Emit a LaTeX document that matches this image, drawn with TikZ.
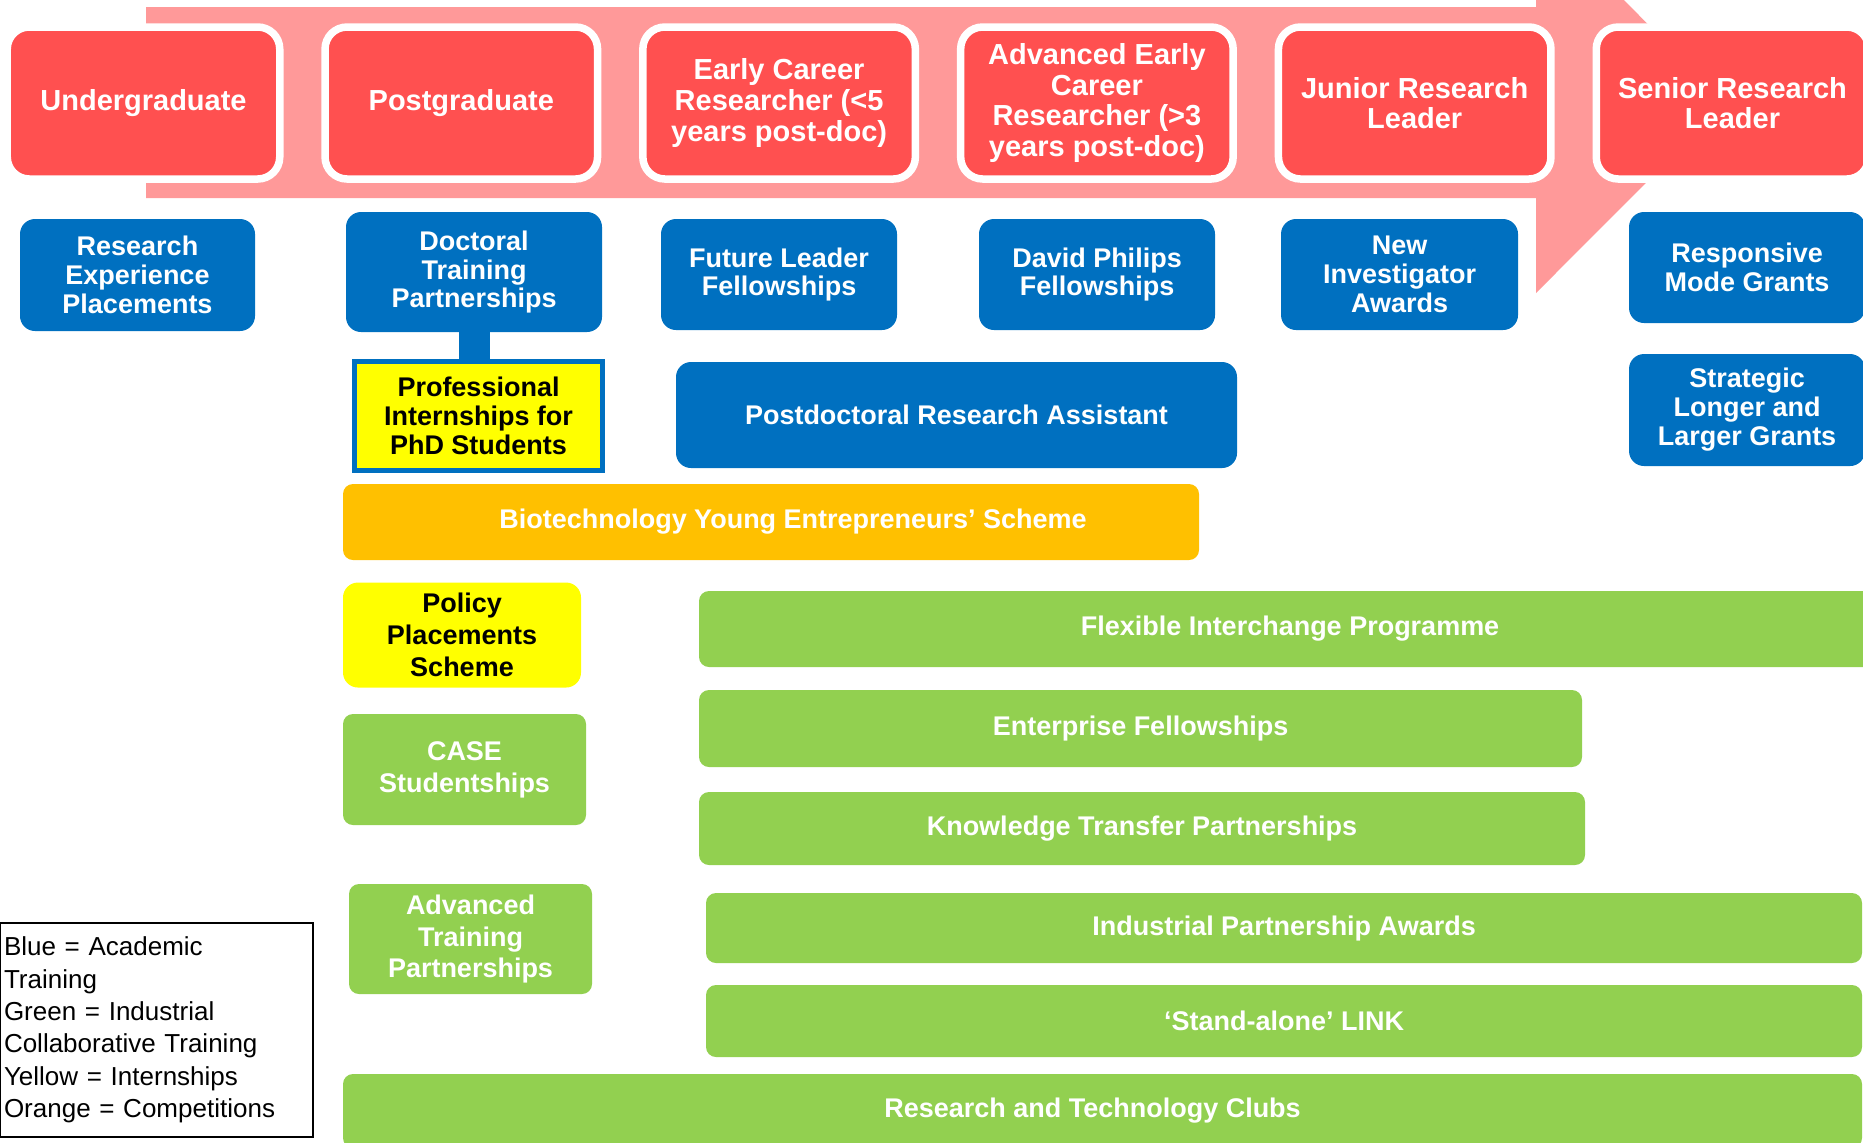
\documentclass[tikz,border=0pt]{standalone}
\usepackage{fontspec}
\setmainfont{Liberation Sans}
\usepackage{xcolor}
\usepackage{tikz}
\definecolor{stagered}{RGB}{255,80,80}
\definecolor{arrowpink}{RGB}{255,153,153}
\definecolor{acblue}{RGB}{0,112,192}
\definecolor{indgreen}{RGB}{146,208,80}
\definecolor{comporange}{RGB}{255,192,0}
\definecolor{internyellow}{RGB}{255,255,0}

\begin{document}
\begin{tikzpicture}
	\tikzstyle{stagebox}=[rectangle, rounded corners=0.22cm, fill=stagered, draw=white, line width=0.075cm, minimum width=2.725cm, minimum height=1.52cm, inner sep=0pt, outer sep=0pt, align=center, text=white, font=\fontsize{8.25}{8.7}\selectfont\bfseries]
	\tikzstyle{schemebox}=[rectangle, rounded corners=0.15cm, fill=acblue, inner sep=0pt, outer sep=0pt, align=center, text=white, font=\fontsize{7.68}{8.25}\selectfont\bfseries]
	\tikzstyle{industrybox}=[schemebox, rounded corners=0.1cm, fill=indgreen, font=\fontsize{7.68}{9.1}\selectfont\bfseries]

	\useasboundingbox (0cm, 0cm) rectangle (18.63cm, -11.42cm);
	\clip (0cm, 0cm) rectangle (18.63cm, -11.42cm);

	% career path arrow behind the stages
	\fill[arrowpink] (1.46cm, -0.07cm) -- (15.36cm, -0.07cm) -- (15.36cm, 0.88cm) -- (17.26cm, -1.025cm)
		-- (15.36cm, -2.93cm) -- (15.36cm, -1.98cm) -- (1.46cm, -1.98cm) -- cycle;

	\foreach \x/\stagetext in {0/Undergraduate, 1/Postgraduate, 2/{Early Career\\Researcher (<5\\years post-doc)},
		3/{Advanced Early\\Career\\Researcher (>3\\years post-doc)}, 4/{Junior Research\\Leader}, 5/{Senior Research\\Leader}}{
		\node[stagebox] (stage\x) at (1.435cm + 3.178cm * \x, -1.03cm) {\stagetext};
	}

	% academic schemes
	\node[schemebox, minimum width=2.35cm, minimum height=1.12cm] (rep) at (1.375cm, -2.75cm) {Research\\Experience\\Placements};
	\node[schemebox, minimum width=2.56cm, minimum height=1.20cm] (dtp) at (4.74cm, -2.72cm) {Doctoral\\Training\\Partnerships};
	\node[schemebox, minimum width=2.36cm, minimum height=1.11cm] (flf) at (7.79cm, -2.745cm) {Future Leader\\Fellowships};
	\node[schemebox, minimum width=2.36cm, minimum height=1.11cm] (dpf) at (10.97cm, -2.745cm) {David Philips\\Fellowships};
	\node[schemebox, minimum width=2.37cm, minimum height=1.11cm] (nia) at (13.995cm, -2.745cm) {New\\Investigator\\Awards};
	\node[schemebox, minimum width=2.36cm, minimum height=1.11cm] (rmg) at (17.47cm, -2.675cm) {Responsive\\Mode Grants};
	\node[schemebox, minimum width=2.36cm, minimum height=1.12cm] (sllg) at (17.47cm, -4.10cm) {Strategic\\Longer and\\Larger Grants};
	\node[schemebox, minimum width=5.61cm, minimum height=1.06cm] (pdra) at (9.565cm, -4.15cm) {Postdoctoral Research Assistant};

	% internships hanging off the DTP
	\node[schemebox, rounded corners=0cm, fill=internyellow, draw=acblue, line width=0.05cm, text=black,
		minimum width=2.48cm, minimum height=1.09cm] (pips) at (4.785cm, -4.16cm) {Professional\\Internships for\\PhD Students};
	\draw[acblue, line width=0.31cm] (dtp.south) -- (dtp.south |- pips.north);

	\node[schemebox, rounded corners=0.1cm, fill=comporange, minimum width=8.56cm, minimum height=0.76cm] (byes) at (7.71cm, -5.22cm) {\hspace*{0.44cm}Biotechnology Young Entrepreneurs’ Scheme};
	\node[industrybox, fill=internyellow, rounded corners=0.15cm, text=black, minimum width=2.38cm, minimum height=1.05cm] (pps) at (4.62cm, -6.35cm) {Policy\\Placements\\Scheme};

	% industrial collaborative training
	\node[industrybox, minimum width=2.43cm, minimum height=1.11cm] (case) at (4.645cm, -7.695cm) {CASE\\Studentships};
	\node[industrybox, minimum width=2.43cm, minimum height=1.10cm] (atp) at (4.705cm, -9.39cm) {Advanced\\Training\\Partnerships};
	\node[industrybox, minimum width=11.82cm, minimum height=0.76cm] (fip) at (12.90cm, -6.29cm) {Flexible Interchange Programme};
	\node[industrybox, minimum width=8.83cm, minimum height=0.77cm] (ef) at (11.405cm, -7.285cm) {Enterprise Fellowships};
	\node[industrybox, minimum width=8.86cm, minimum height=0.73cm] (ktp) at (11.42cm, -8.285cm) {Knowledge Transfer Partnerships};
	\node[industrybox, minimum width=11.56cm, minimum height=0.70cm] (ipa) at (12.84cm, -9.28cm) {Industrial Partnership Awards};
	\node[industrybox, minimum width=11.56cm, minimum height=0.72cm] (link) at (12.84cm, -10.21cm) {‘Stand-alone’ LINK};
	\node[industrybox, minimum width=15.19cm, minimum height=0.74cm] (rtc) at (11.025cm, -11.11cm) {Research and Technology Clubs\hspace*{0.2cm}};

	% colour key
	\node[rectangle, draw=black, line width=0.02cm, minimum width=3.13cm, minimum height=2.14cm, inner sep=0pt,
		text width=3.05cm, align=left, font=\fontsize{7.4}{9.2}\selectfont] (key) at (1.565cm, -10.30cm)
		{Blue = Academic\\Training\\Green = Industrial\\Collaborative Training\\Yellow = Internships\\Orange = Competitions};
\end{tikzpicture}
\end{document}
